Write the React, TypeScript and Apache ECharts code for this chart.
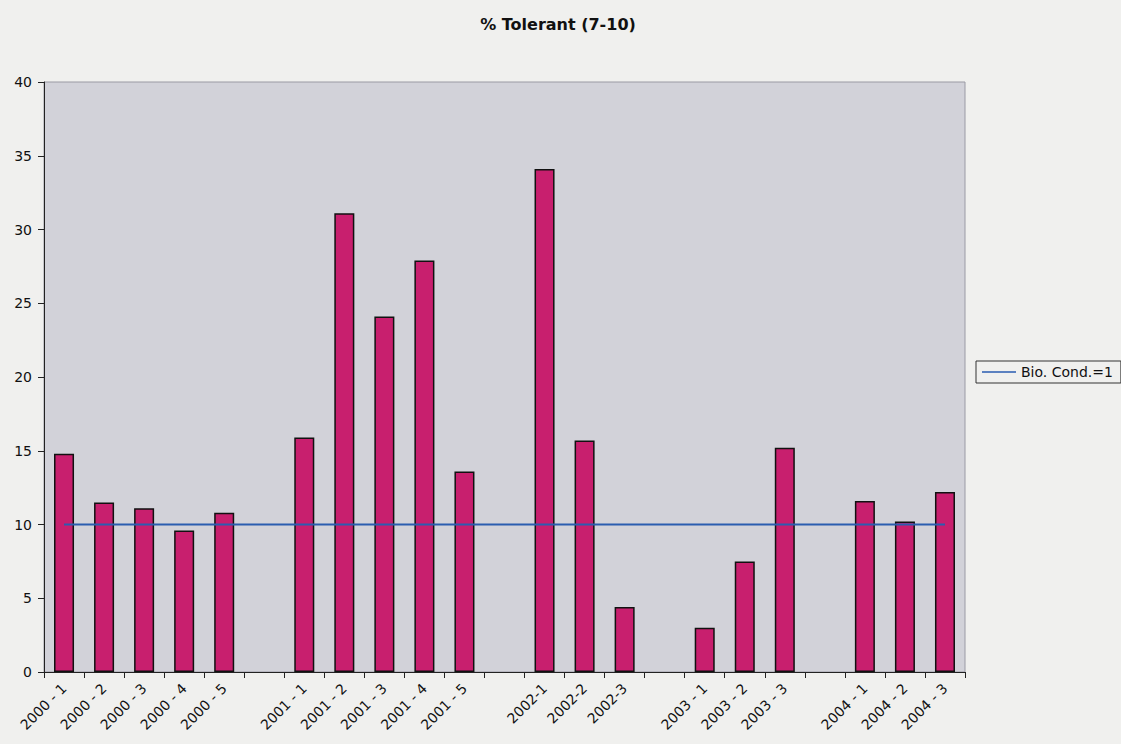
import React, { useEffect, useRef } from "react";
import * as echarts from "echarts";

const categories = [
  "2000 - 1", "2000 - 2", "2000 - 3", "2000 - 4", "2000 - 5", " ",
  "2001 - 1", "2001 - 2", "2001 - 3", "2001 - 4", "2001 - 5", "  ",
  "2002-1", "2002-2", "2002-3", "   ",
  "2003 - 1", "2003 - 2", "2003 - 3", "    ",
  "2004 - 1", "2004 - 2", "2004 - 3",
];

const tolerantValues: (number | null)[] = [
  14.8, 11.5, 11.1, 9.6, 10.8, null,
  15.9, 31.1, 24.1, 27.9, 13.6, null,
  34.1, 15.7, 4.4, null,
  3.0, 7.5, 15.2, null,
  11.6, 10.2, 12.2,
];

const bioCondValues = categories.map(() => 10);

const titleText = "% Tolerant (7-10)";
const lineName = "Bio. Cond.=1";

export default function App() {
  const ref = useRef<HTMLDivElement>(null);
  useEffect(() => {
    document.body.style.margin = "0";
    const chart = echarts.init(ref.current!, null, { renderer: "svg" });
    chart.setOption({
      animation: false,
      backgroundColor: "#f0f0ee",
      textStyle: { fontFamily: "DejaVu Sans, Arial, sans-serif" },
      title: {
        text: titleText,
        left: 553,
        textAlign: "center",
        top: 11,
        textStyle: { fontSize: 16, fontWeight: "bold", color: "#111", fontFamily: "DejaVu Sans" },
      },
      legend: {
        data: [{ name: lineName, icon: "path://M0,0H40V2H0Z" }],
        left: 976,
        top: 361,
        orient: "vertical",
        itemWidth: 34,
        itemHeight: 2,
        itemGap: 6,
        padding: [4, 8, 4, 6],
        borderColor: "#333",
        borderWidth: 1,
        backgroundColor: "#f0f0ee",
        textStyle: { fontSize: 14, color: "#111", fontFamily: "DejaVu Sans" },
      },
      grid: {
        left: 44,
        right: 156,
        top: 82,
        bottom: 72,
        show: true,
        backgroundColor: "#d2d2d9",
        borderColor: "#9a9aa4",
        borderWidth: 1,
      },
      xAxis: {
        type: "category",
        data: categories,
        boundaryGap: true,
        axisLine: { lineStyle: { color: "#222", width: 1 } },
        axisTick: { show: true, interval: 0, length: 6, lineStyle: { color: "#222" } },
        axisLabel: {
          interval: 0,
          rotate: 45,
          fontSize: 14,
          color: "#111",
          margin: 14,
          fontFamily: "DejaVu Sans",
        },
      },
      yAxis: {
        type: "value",
        min: 0,
        max: 40,
        interval: 5,
        splitLine: { show: false },
        axisLine: { show: true, lineStyle: { color: "#222" } },
        axisTick: { show: true, length: 6, lineStyle: { color: "#222" } },
        axisLabel: { fontSize: 14, color: "#111", margin: 12, fontFamily: "DejaVu Sans" },
      },
      series: [
        {
          name: "% Tolerant",
          type: "bar",
          data: tolerantValues,
          barWidth: "50%",
          itemStyle: { color: "#c81f6e", borderColor: "#111", borderWidth: 1.5 },
        },
        {
          name: lineName,
          type: "line",
          data: bioCondValues,
          symbol: "none",
          lineStyle: { color: "#2a5db0", width: 2 },
          itemStyle: { color: "#2a5db0" },
        },
      ],
    });
    return () => chart.dispose();
  }, []);
  return <div ref={ref} style={{ width: 1121, height: 744 }} />;
}
